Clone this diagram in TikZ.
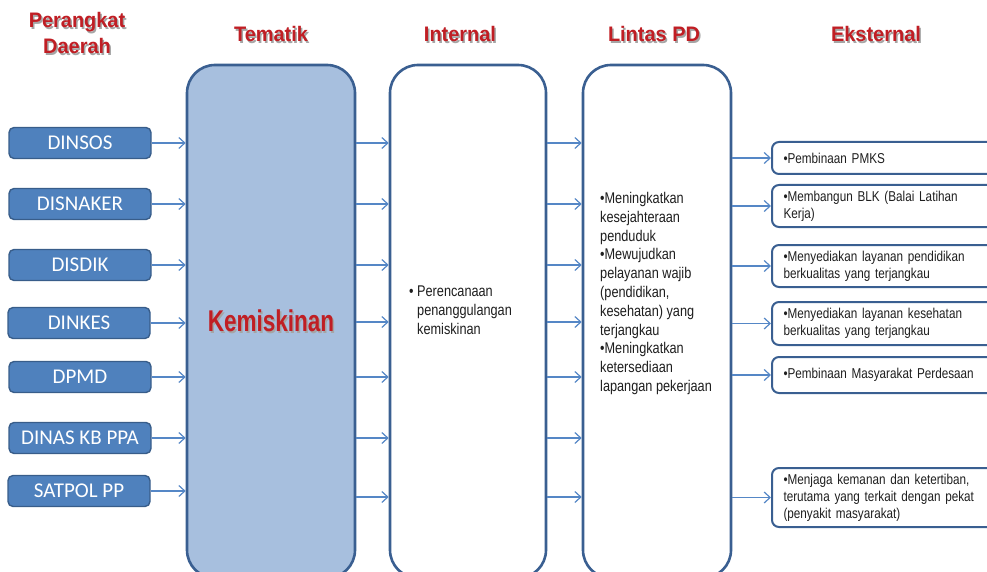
\documentclass[tikz,border=0pt]{standalone}
\usepackage{fontspec}
\setmainfont{Liberation Sans}
\newfontfamily\narrowfont{Liberation Sans}[FakeStretch=0.82]
\newfontfamily\headfont{Liberation Sans}[FakeStretch=0.95]
\newfontfamily\kemfont{Liberation Sans}[FakeStretch=0.75]
\newfontfamily\unitfont{Carlito}
\usetikzlibrary{arrows.meta}

\definecolor{unitblue}{RGB}{79,129,189}
\definecolor{unitedge}{RGB}{56,93,138}
\definecolor{temfill}{RGB}{167,191,222}
\definecolor{coledge}{RGB}{58,95,145}
\definecolor{arrowblue}{RGB}{85,135,198}
\definecolor{bodytext}{RGB}{30,30,30}
\definecolor{hdred}{RGB}{192,30,36}
\definecolor{shadegray}{RGB}{165,165,165}

% red heading text with a soft grey drop shadow
\newcommand{\shadowed}[1]{\leavevmode\rlap{\hspace{1.5pt}\raisebox{-1.8pt}{\textcolor{shadegray}{#1}}}#1}

\begin{document}
\begin{tikzpicture}[x=1pt,y=-1pt,
  arr/.style={draw=arrowblue, line width=1.2pt, -{Straight Barb[length=6pt,width=11pt]}},
  unit/.style={draw=unitedge, fill=unitblue, line width=1.4pt, rounded corners=5pt,
    minimum width=142pt, minimum height=31pt, inner sep=0pt, text=white,
    font=\unitfont\fontsize{21}{24}\selectfont},
  column/.style={draw=coledge, line width=2.6pt, rounded corners=28pt,
    minimum height=513pt, inner sep=0pt},
  goal/.style={draw=coledge, line width=2pt, rounded corners=7pt, anchor=west,
    minimum width=245pt, text width=222pt, inner xsep=11pt, inner ysep=0pt, align=left,
    font=\narrowfont\fontsize{14.3}{17}\selectfont, text=bodytext},
  head/.style={text=hdred, font=\headfont\bfseries\fontsize{21}{26.5}\selectfont, align=center},
  body/.style={anchor=north west, inner sep=0pt, align=left, text=bodytext,
    font=\narrowfont\fontsize{15.5}{18.8}\selectfont}
]
\useasboundingbox (0,0) rectangle (987,572);
\clip (0,0) rectangle (987,572);

% column headings
\node[head] (hpd)  at (77,34)  {\shadowed{Perangkat}\\\shadowed{Daerah}};
\node[head] (htem) at (271,35) {\shadowed{Tematik}};
\node[head] (hint) at (460,35) {\shadowed{Internal}};
\node[head] (hlin) at (654,35) {\shadowed{Lintas PD}};
\node[head] (heks) at (876,35) {\shadowed{Eksternal}};

% tall columns
\node[column, fill=temfill, minimum width=168pt, text=hdred,
      font=\kemfont\bfseries\fontsize{30}{34}\selectfont] (tem) at (271,321.5) {\shadowed{Kemiskinan}};
\node[column, fill=white, minimum width=156pt] (int) at (468,321.5) {};
\node[column, fill=white, minimum width=148pt] (lin) at (657,321.5) {};

% regional units
\node[unit] (dinsos)   at (80,143) {DINSOS};
\node[unit] (disnaker) at (80,204) {DISNAKER};
\node[unit] (disdik)   at (80,265) {DISDIK};
\node[unit] (dinkes)   at (79,323) {DINKES};
\node[unit] (dpmd)     at (80,377) {DPMD};
\node[unit] (dinaskb)  at (80,438) {DINAS KB PPA};
\node[unit] (satpol)   at (79,491) {SATPOL PP};

\foreach \u in {dinsos,disnaker,disdik,dinkes,dpmd,dinaskb,satpol}
  \draw[arr] (\u.east) -- (\u.east -| tem.west);

% rows of arrows between the columns
\coordinate (r1) at (0,143);
\coordinate (r2) at (0,204);
\coordinate (r3) at (0,265);
\coordinate (r4) at (0,322);
\coordinate (r5) at (0,377);
\coordinate (r6) at (0,438);
\coordinate (r7) at (0,497);
\foreach \r in {r1,r2,r3,r4,r5,r6,r7}{
  \draw[arr] (tem.east |- \r) -- (int.west |- \r);
  \draw[arr] (int.east |- \r) -- (lin.west |- \r);
}

% column texts
\node[body] (inttext) at (409,286)
  {• Perencanaan\\\hphantom{• }penanggulangan\\\hphantom{• }kemiskinan};
\node[body] (lintext) at (600,192)
  {•Meningkatkan\\kesejahteraan\\penduduk\\•Mewujudkan\\pelayanan wajib\\(pendidikan,\\kesehatan) yang\\terjangkau\\•Meningkatkan\\ketersediaan\\lapangan pekerjaan};

% external programmes
\node[goal, minimum height=32pt] (g1) at (771,158) {•Pembinaan PMKS};
\node[goal, minimum height=42pt] (g2) at (771,206) {•Membangun BLK (Balai Latihan\\Kerja)};
\node[goal, minimum height=42pt] (g3) at (771,266) {•Menyediakan layanan pendidikan\\berkualitas yang terjangkau};
\node[goal, minimum height=43pt] (g4) at (771,323.5) {•Menyediakan layanan kesehatan\\berkualitas yang terjangkau};
\node[goal, minimum height=36pt] (g5) at (771,375) {•Pembinaan Masyarakat Perdesaan};
\node[goal, minimum height=59pt] (g6) at (771,497.5) {•Menjaga kemanan dan ketertiban,\\terutama yang terkait dengan pekat\\(penyakit masyarakat)};

\foreach \g in {g1,g2,g3,g4,g5,g6}
  \draw[arr] (lin.east |- \g.west) -- (\g.west);
\end{tikzpicture}
\end{document}
